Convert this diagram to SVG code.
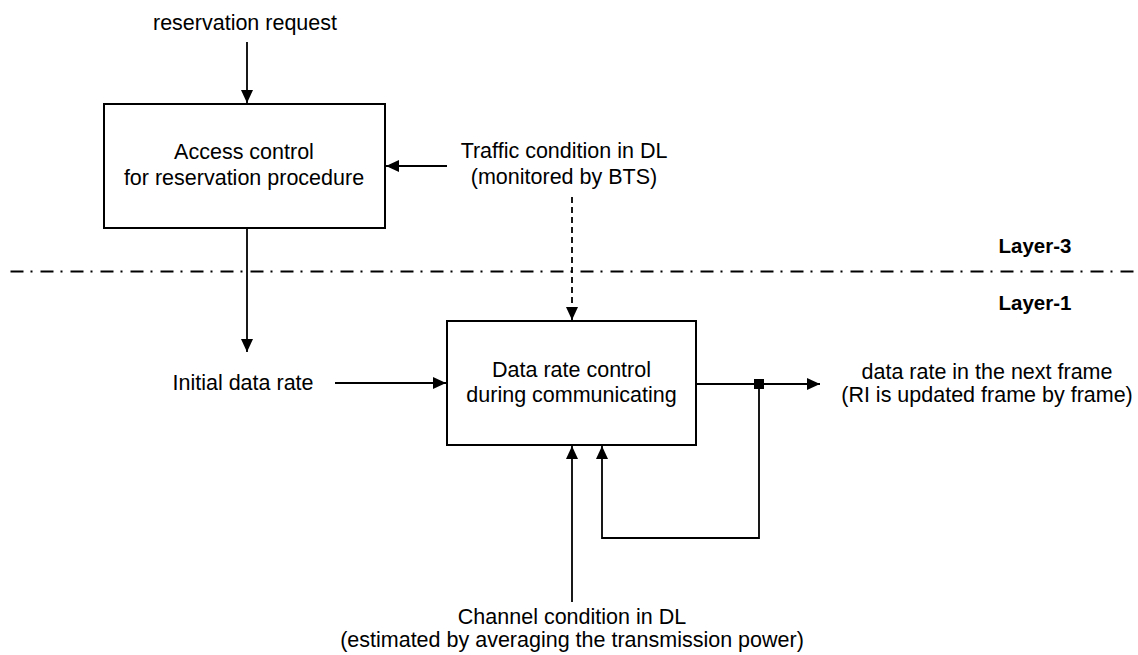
<svg xmlns="http://www.w3.org/2000/svg" width="1138" height="655" viewBox="0 0 1138 655">
<style>
text{font-family:"Liberation Sans",Arial,sans-serif;font-size:21.5px;fill:#000;text-anchor:middle}
.b{font-weight:bold;font-size:20.5px}
.box{fill:#fff;stroke:#000;stroke-width:2}
.ln{fill:none;stroke:#000;stroke-width:1.8}
</style>
<defs>
<marker id="ah" viewBox="0 0 13 12" refX="13" refY="6" markerWidth="13" markerHeight="12" markerUnits="userSpaceOnUse" orient="auto">
<path d="M0,0 L13,6 L0,12 Z" fill="#000"/>
</marker>
</defs>
<rect width="1138" height="655" fill="#fff"/>
<g id="connectors">
<line class="ln" x1="247" y1="42" x2="247" y2="103" marker-end="url(#ah)"/>
<line class="ln" x1="447" y1="166" x2="386" y2="166" marker-end="url(#ah)"/>
<line class="ln" x1="572" y1="197" x2="572" y2="320" stroke-dasharray="6 4" marker-end="url(#ah)"/>
<line class="ln" x1="247" y1="229" x2="247" y2="352" marker-end="url(#ah)"/>
<line class="ln" x1="335" y1="383" x2="446" y2="383" marker-end="url(#ah)"/>
<line class="ln" x1="696" y1="384" x2="820" y2="384" marker-end="url(#ah)"/>
<polyline class="ln" points="759,384 759,538 602,538 602,446" marker-end="url(#ah)"/>
<line class="ln" x1="572" y1="602" x2="572" y2="446" marker-end="url(#ah)"/>
<rect x="754" y="379" width="10" height="10" fill="#000"/>
<line class="ln" x1="10.5" y1="271.5" x2="1138" y2="271.5" stroke-dasharray="13 7 2 8"/>
</g>
<g id="access-control">
<rect class="box" x="104" y="104" width="281" height="124"/>
<text x="244" y="159">Access control</text>
<text x="244" y="185">for reservation procedure</text>
</g>
<g id="data-rate-control">
<rect class="box" x="447" y="321" width="249" height="124"/>
<text x="571.5" y="377">Data rate control</text>
<text x="571.5" y="402">during communicating</text>
</g>
<g id="labels">
<text x="245" y="30">reservation request</text>
<text x="564" y="158">Traffic condition in DL</text>
<text x="564" y="184">(monitored by BTS)</text>
<text x="243" y="390">Initial data rate</text>
<text x="987" y="379">data rate in the next frame</text>
<text x="987" y="402">(RI is updated frame by frame)</text>
<text x="572" y="624">Channel condition in DL</text>
<text x="572" y="647">(estimated by averaging the transmission power)</text>
<text class="b" x="1035" y="253">Layer-3</text>
<text class="b" x="1035" y="310">Layer-1</text>
</g>
</svg>
